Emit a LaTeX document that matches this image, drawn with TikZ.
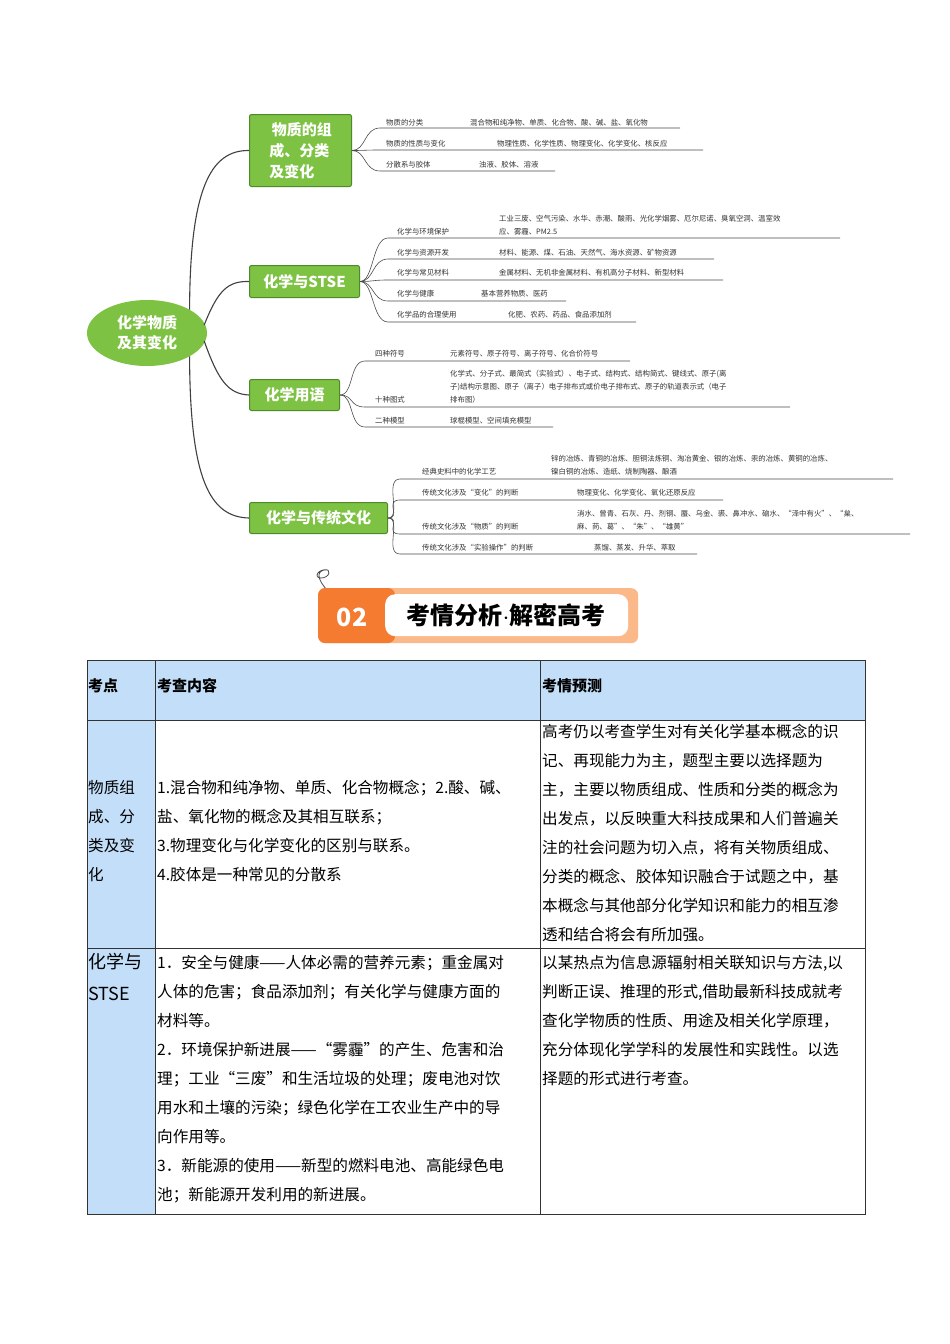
\documentclass[tikz,border=0pt]{standalone}
\usepackage{fontspec}
\setmainfont{Noto Sans CJK SC}
\newfontfamily\cjk{Noto Sans CJK SC}
\usetikzlibrary{calc,shapes.geometric}
\definecolor{gbox}{HTML}{7DC242}
\definecolor{gdark}{HTML}{4E8A2A}
\definecolor{hblue}{HTML}{C3DEF8}
\definecolor{orgA}{HTML}{F47B30}
\definecolor{orgB}{HTML}{FBB98A}
\tikzset{
 x=1pt,y=-1pt,
 gnode/.style={fill=gbox,draw=gdark,line width=1pt,rounded corners=2pt,text=white,font=\cjk\bfseries\fontsize{15}{18}\selectfont,align=left},
 mainline/.style={draw=black!75,line width=1.1pt},
 leafline/.style={draw=black!70,line width=0.6pt},
 lt/.style={font=\cjk\fontsize{7.4}{13}\selectfont,text=black!80,anchor=base west,inner sep=0pt,align=left},
 cell/.style={anchor=north west,inner sep=0pt,align=left,font=\cjk\fontsize{15.6}{29}\selectfont},
}
\newcommand\lf[5]{%
 \coordinate (#2s) at (#3,#4); \coordinate (#2e) at (#5,#4);
 \draw[leafline] (#1.east) .. controls ($(#1.east)+(14,0)$) and ($(#2s)+(-8,0)$) .. ($(#2s)+(8,0)$) -- (#2e);}
\begin{document}
\begin{tikzpicture}
\useasboundingbox (0,0) rectangle (950,1344);
\fill[white] (0,0) rectangle (950,1344);
% root
\node[ellipse,fill=gbox,text=white,minimum width=120,minimum height=66,align=center,font=\cjk\bfseries\fontsize{15}{20}\selectfont] (root) at (147,333) {化学物质\\及其变化};
\node[gnode,minimum width=102,minimum height=72,anchor=north west,font=\cjk\bfseries\fontsize{15}{21}\selectfont] (b1) at (249,114) {\,物质的组\\成、分类\\及变化};
\node[gnode,minimum width=110,minimum height=32,anchor=north west] (b2) at (249,265) {化学与STSE};
\node[gnode,minimum width=90,minimum height=31,anchor=north west] (b3) at (249,379) {化学用语};
\node[gnode,minimum width=138,minimum height=31,anchor=north west] (b4) at (249,502) {化学与传统文化};
\draw[mainline] (root.north east) .. controls (190,190) and (210,150) .. (b1.west);
\draw[mainline] ($(root.east)+(-3,-8)$) .. controls (218,290) and (228,281) .. (b2.west);
\draw[mainline] ($(root.east)+(-3,8)$) .. controls (218,380) and (228,394) .. (b3.west);
\draw[mainline] (root.south east) .. controls (190,480) and (210,517) .. (b4.west);
% b1 leaves
\lf{b1}{a1}{372}{128}{680}\lf{b1}{a2}{372}{150}{703}\lf{b1}{a3}{372}{171}{555}
\node[lt] at (386,125) {物质的分类}; \node[lt] at (470,125) {混合物和纯净物、单质、化合物、酸、碱、盐、氧化物};
\node[lt] at (386,146) {物质的性质与变化}; \node[lt] at (497,146) {物理性质、化学性质、物理变化、化学变化、核反应};
\node[lt] at (386,167) {分散系与胶体}; \node[lt] at (479,167) {浊液、胶体、溶液};
% b2 leaves
\lf{b2}{c1}{380}{238}{840}\lf{b2}{c2}{380}{259}{714}\lf{b2}{c3}{380}{280}{723}\lf{b2}{c4}{380}{301}{566}\lf{b2}{c5}{380}{322}{636}
\node[lt] at (397,234) {化学与环境保护}; \node[lt] at (499,234) {工业三废、空气污染、水华、赤潮、酸雨、光化学烟雾、厄尔尼诺、臭氧空洞、温室效\\应、雾霾、PM2.5};
\node[lt] at (397,255) {化学与资源开发}; \node[lt] at (499,255) {材料、能源、煤、石油、天然气、海水资源、矿物资源};
\node[lt] at (397,275) {化学与常见材料}; \node[lt] at (499,275) {金属材料、无机非金属材料、有机高分子材料、新型材料};
\node[lt] at (397,296) {化学与健康}; \node[lt] at (481,296) {基本营养物质、医药};
\node[lt] at (397,317) {化学品的合理使用}; \node[lt] at (508,317) {化肥、农药、药品、食品添加剂};
% b3 leaves
\lf{b3}{d1}{357}{361}{630}\lf{b3}{d2}{357}{407}{790}\lf{b3}{d3}{357}{427}{553}
\node[lt] at (375,356) {四种符号}; \node[lt] at (450,356) {元素符号、原子符号、离子符号、化合价符号};
\node[lt] at (375,402) {十种图式}; \node[lt] at (450,402) {化学式、分子式、最简式（实验式）、电子式、结构式、结构简式、键线式、原子(离\\子)结构示意图、原子（离子）电子排布式或价电子排布式、原子的轨道表示式（电子\\排布图）};
\node[lt] at (375,423) {二种模型}; \node[lt] at (450,423) {球棍模型、空间填充模型};
% b4 leaves
\lf{b4}{e1}{392}{479}{893}\lf{b4}{e2}{392}{500}{723}\lf{b4}{e3}{392}{534}{910}\lf{b4}{e4}{392}{554}{697}
\node[lt] at (422,474) {经典史料中的化学工艺}; \node[lt] at (551,474) {锌的冶炼、青铜的冶炼、胆铜法炼铜、淘冶黄金、银的冶炼、汞的冶炼、黄铜的冶炼、\\镍白铜的冶炼、造纸、烧制陶器、酿酒};
\node[lt] at (422,495) {传统文化涉及“变化”的判断}; \node[lt] at (577,495) {物理变化、化学变化、氧化还原反应};
\node[lt] at (422,529) {传统文化涉及“物质”的判断}; \node[lt] at (577,529) {消水、曾青、石灰、丹、剂钢、蜃、乌金、裘、鼻冲水、硇水、“泽中有火”、“枲、\\麻、苘、葛”、“朱”、“雄黄”};
\node[lt] at (422,550) {传统文化涉及“实验操作”的判断}; \node[lt] at (594,550) {蒸馏、蒸发、升华、萃取};
% banner
\draw[black!70,line width=0.8pt] (327,590) .. controls (318,580) and (316,572) .. (324,570) .. controls (332,568) and (330,578) .. (321,578) .. controls (313,578) and (318,568) .. (328,570);
\node[fill=orgB,rounded corners=7pt,minimum width=320,minimum height=55,anchor=north west,inner sep=0] (ban) at (318,588) {};
\fill[orgA,rounded corners=7pt] (318,588) rectangle (395,643);
\node[fill=white,rounded corners=10pt,minimum width=243,minimum height=42,anchor=north west,inner sep=0] (banw) at (385,594) {};
\node[font=\cjk\bfseries\fontsize{25}{25}\selectfont,text=white] (n02) at (352,617) {02};
\node[font=\cjk\bfseries\fontsize{24}{24}\selectfont] (btitle) at (506,615) {考情分析$\cdot$解密高考};
% table
\fill[hblue] (87,660) rectangle (865,720);
\fill[hblue] (87,720) rectangle (155,1214);
\draw[black!80,line width=0.7pt] (87,660) rectangle (865,1214);
\foreach \x in {155,540} \draw[black!80,line width=0.7pt] (\x,660) -- (\x,1214);
\foreach \y in {720,948} \draw[black!80,line width=0.7pt] (87,\y) -- (865,\y);
\node[cell,font=\cjk\bfseries\fontsize{15}{20}\selectfont,anchor=west] (h1) at (88,686) {考点};
\node[cell,font=\cjk\bfseries\fontsize{15}{20}\selectfont,anchor=west] (h2) at (157,686) {考查内容};
\node[cell,font=\cjk\bfseries\fontsize{15}{20}\selectfont,anchor=west] (h3) at (542,686) {考情预测};
\node[cell] (r1a) at (88,780) {物质组\\成、分\\类及变\\化};
\node[cell] (r1b) at (157,780) {1.混合物和纯净物、单质、化合物概念；2.酸、碱、\\盐、氧化物的概念及其相互联系；\\3.物理变化与化学变化的区别与联系。\\4.胶体是一种常见的分散系};
\node[cell] (r1c) at (542,724) {高考仍以考查学生对有关化学基本概念的识\\记、再现能力为主，题型主要以选择题为\\主，主要以物质组成、性质和分类的概念为\\出发点，以反映重大科技成果和人们普遍关\\注的社会问题为切入点，将有关物质组成、\\分类的概念、胶体知识融合于试题之中，基\\本概念与其他部分化学知识和能力的相互渗\\透和结合将会有所加强。};
\node[cell,font=\cjk\fontsize{18}{32}\selectfont] (r2a) at (88,953) {化学与\\STSE};
\node[cell] (r2b) at (157,955) {1．安全与健康——人体必需的营养元素；重金属对\\人体的危害；食品添加剂；有关化学与健康方面的\\材料等。\\2．环境保护新进展——“雾霾”的产生、危害和治\\理；工业“三废”和生活垃圾的处理；废电池对饮\\用水和土壤的污染；绿色化学在工农业生产中的导\\向作用等。\\3．新能源的使用——新型的燃料电池、高能绿色电\\池；新能源开发利用的新进展。};
\node[cell] (r2c) at (542,955) {以某热点为信息源辐射相关联知识与方法,以\\判断正误、推理的形式,借助最新科技成就考\\查化学物质的性质、用途及相关化学原理，\\充分体现化学学科的发展性和实践性。以选\\择题的形式进行考查。};
\end{tikzpicture}
\end{document}
